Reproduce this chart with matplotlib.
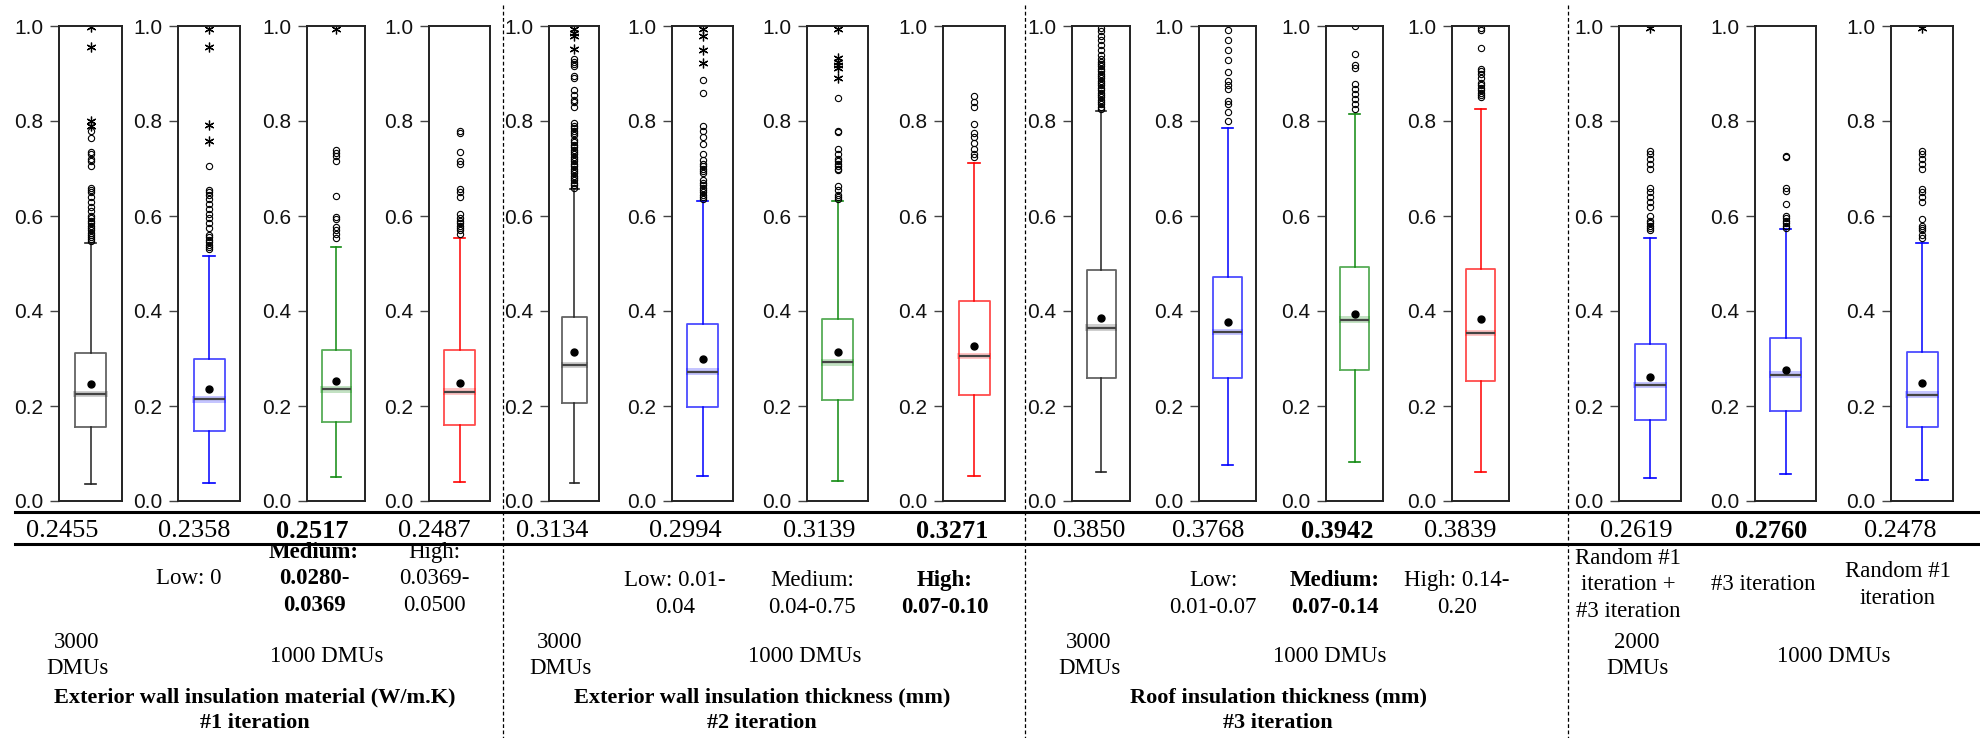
import numpy as np
import matplotlib
matplotlib.use("Agg")
import matplotlib.pyplot as plt
from matplotlib.lines import Line2D

W, H = 1980, 738

# ----- Data (efficiency score distributions) -----
whis_lo = [0.036, 0.038, 0.051, 0.040, 0.037, 0.053, 0.042, 0.053,
           0.061, 0.076, 0.083, 0.062, 0.048, 0.056, 0.045]
q1 = [0.155, 0.148, 0.166, 0.160, 0.206, 0.198, 0.213, 0.223,
      0.260, 0.259, 0.275, 0.253, 0.171, 0.189, 0.156]
median = [0.225, 0.214, 0.235, 0.230, 0.286, 0.272, 0.292, 0.305,
          0.365, 0.356, 0.382, 0.354, 0.244, 0.266, 0.224]
q3 = [0.311, 0.298, 0.317, 0.318, 0.388, 0.373, 0.383, 0.422,
      0.486, 0.472, 0.492, 0.488, 0.330, 0.343, 0.313]
whis_hi = [0.543, 0.516, 0.535, 0.553, 0.657, 0.632, 0.632, 0.712,
           0.822, 0.786, 0.815, 0.826, 0.554, 0.572, 0.544]
mean_scores = [0.2455, 0.2358, 0.2517, 0.2487, 0.3134, 0.2994, 0.3139, 0.3271,
               0.3850, 0.3768, 0.3942, 0.3839, 0.2619, 0.2760, 0.2478]

circle_outliers = [
    [0.548, 0.552, 0.556, 0.56, 0.565, 0.57, 0.575, 0.58, 0.585, 0.59, 0.595, 0.60,
     0.61, 0.62, 0.63, 0.64, 0.65, 0.655, 0.66, 0.705, 0.715, 0.72, 0.73, 0.735, 0.765, 0.78],
    [0.53, 0.535, 0.54, 0.545, 0.55, 0.555, 0.56, 0.575, 0.585, 0.595, 0.605, 0.615,
     0.625, 0.635, 0.645, 0.65, 0.655, 0.705],
    [0.553, 0.563, 0.57, 0.577, 0.594, 0.598, 0.643, 0.716, 0.727, 0.733, 0.74],
    [0.563, 0.57, 0.575, 0.58, 0.585, 0.59, 0.595, 0.605, 0.64, 0.65, 0.657,
     0.71, 0.716, 0.735, 0.775, 0.779],
    [0.66, 0.665, 0.67, 0.675, 0.68, 0.685, 0.69, 0.695, 0.70, 0.705, 0.71, 0.715,
     0.72, 0.725, 0.73, 0.735, 0.74, 0.745, 0.75, 0.755, 0.76, 0.77, 0.775, 0.78,
     0.785, 0.79, 0.795, 0.83, 0.84, 0.845, 0.855, 0.865, 0.89, 0.895, 0.915,
     0.92, 0.925, 0.93],
    [0.635, 0.64, 0.645, 0.65, 0.655, 0.66, 0.665, 0.67, 0.675, 0.69, 0.695, 0.70,
     0.705, 0.71, 0.717, 0.73, 0.752, 0.766, 0.78, 0.79, 0.858, 0.886],
    [0.635, 0.64, 0.645, 0.654, 0.664, 0.696, 0.70, 0.705, 0.71, 0.715, 0.72,
     0.73, 0.742, 0.777, 0.78, 0.848],
    [0.724, 0.731, 0.742, 0.753, 0.767, 0.774, 0.794, 0.83, 0.841, 0.852],
    [0.825, 0.83, 0.835, 0.84, 0.845, 0.85, 0.855, 0.86, 0.865, 0.87, 0.875, 0.88,
     0.885, 0.89, 0.895, 0.90, 0.905, 0.91, 0.915, 0.92, 0.925, 0.93, 0.94, 0.95,
     0.96, 0.97, 0.98, 0.99, 0.995],
    [0.80, 0.818, 0.835, 0.842, 0.868, 0.875, 0.885, 0.903, 0.928, 0.949, 0.971, 0.992],
    [0.825, 0.836, 0.846, 0.857, 0.868, 0.878, 0.912, 0.918, 0.941, 0.999],
    [0.85, 0.855, 0.86, 0.865, 0.87, 0.875, 0.88, 0.89, 0.90, 0.905, 0.91,
     0.953, 0.992, 0.995],
    [0.57, 0.575, 0.58, 0.585, 0.59, 0.60, 0.62, 0.63, 0.64, 0.65, 0.66,
     0.70, 0.71, 0.72, 0.73, 0.736],
    [0.574, 0.58, 0.585, 0.59, 0.595, 0.60, 0.626, 0.653, 0.66, 0.725, 0.727],
    [0.553, 0.56, 0.57, 0.575, 0.58, 0.594, 0.63, 0.64, 0.65, 0.656,
     0.70, 0.71, 0.72, 0.73, 0.736],
]
star_outliers = [
    [0.79, 0.80, 0.955, 0.997],
    [0.758, 0.791, 0.955, 0.994],
    [0.994],
    [],
    [0.952, 0.979, 0.986, 0.994],
    [0.923, 0.95, 0.978, 0.993],
    [0.89, 0.911, 0.918, 0.925, 0.933, 0.994],
    [], [], [], [], [],
    [0.996],
    [],
    [0.996],
]

group_sizes = [4, 4, 4, 3]
level_labels = [
    ["", "Low: 0", "Medium:\n0.0280-\n0.0369", "High:\n0.0369-\n0.0500"],
    ["", "Low: 0.01-\n0.04", "Medium:\n0.04-0.75", "High:\n0.07-0.10"],
    ["", "Low:\n0.01-0.07", "Medium:\n0.07-0.14", "High: 0.14-\n0.20"],
    ["Random #1\niteration +\n#3 iteration", "#3 iteration", "Random #1\niteration"],
]
bold_level = [2, 3, 2, None]
dmu_first = ["3000\nDMUs", "3000\nDMUs", "3000\nDMUs", "2000\nDMUs"]
dmu_rest = "1000 DMUs"
group_titles = [
    "Exterior wall insulation material (W/m.K)\n#1 iteration",
    "Exterior wall insulation thickness (mm)\n#2 iteration",
    "Roof insulation thickness (mm)\n#3 iteration",
    "",
]

# ----- Styles / layout (pixels) -----
panel_colors = ["black", "blue", "green", "red"] * 3 + ["blue"] * 3
WHISKER_C = {"black": "#222222", "blue": "#0000ff", "green": "#108a10", "red": "#ff0000"}
BAND_C = {"black": "#555555", "blue": "#3030ff", "green": "#2a9a2a", "red": "#ff3030"}

panel_left = [59, 178, 307, 429, 549, 672, 807, 943, 1072, 1199, 1326, 1452, 1619, 1755, 1891]
panel_right = [122, 240, 365, 490, 599, 733, 868, 1005, 1130, 1256, 1383, 1509, 1681, 1816, 1953]
PANEL_TOP, PANEL_BOTTOM = 26, 501

mean_x = [62, 194, 312, 434, 552, 685, 819, 952, 1089, 1208, 1337, 1460, 1636, 1771, 1900]
level_x = [None, 189, 314, 434, None, 675, 812, 945, None, 1213, 1335, 1457, 1628, 1763, 1898]
level_y = [579, 594, 594, 585]
LEVEL_GAP = 26.5
dmu_first_x = [77, 560, 1089, 1637]
dmu_rest_x = [327, 805, 1330, 1834]
title_x = [255, 762, 1278, None]
separators_x = [503, 1025, 1568]

SERIF = "Liberation Serif"
SANS = "Liberation Sans"

fig = plt.figure(figsize=(W / 100, H / 100), dpi=100)


def put(x, y, s, gap, **kw):
    lines = s.split("\n")
    n = len(lines)
    for i, line in enumerate(lines):
        yy = y + (i - (n - 1) / 2) * gap
        fig.text(x / W, 1 - yy / H, line, ha="center", va="center",
                 family=SERIF, **kw)


# ----- Box plots -----
for i in range(15):
    c = panel_colors[i]
    ax = fig.add_axes([panel_left[i] / W, 1 - PANEL_BOTTOM / H,
                       (panel_right[i] - panel_left[i]) / W,
                       (PANEL_BOTTOM - PANEL_TOP) / H])
    stats = [dict(med=median[i], q1=q1[i], q3=q3[i], whislo=whis_lo[i],
                  whishi=whis_hi[i], mean=mean_scores[i],
                  fliers=np.array(circle_outliers[i]))]
    ax.bxp(stats, positions=[1], widths=0.5, capwidths=0.18, showmeans=True,
           manage_ticks=False,
           boxprops=dict(color=WHISKER_C[c], lw=1.3, alpha=0.7),
           whiskerprops=dict(color=WHISKER_C[c], lw=1.1),
           capprops=dict(color=WHISKER_C[c], lw=1.2),
           medianprops=dict(color="#444444", lw=1.6),
           meanprops=dict(marker="o", markerfacecolor="k", markeredgecolor="k",
                          markersize=5),
           flierprops=dict(marker="o", markerfacecolor="none",
                           markeredgecolor="k", markersize=4.5,
                           markeredgewidth=0.8))
    ax.fill_between([0.73, 1.27], median[i] - 0.007, median[i] + 0.007,
                    color=BAND_C[c], alpha=0.28, lw=0)
    if star_outliers[i]:
        ax.plot([1] * len(star_outliers[i]), star_outliers[i], ls="none",
                marker=(6, 2, 0), markersize=7, markeredgewidth=0.9, color="k")
    ax.set_xlim(0.5, 1.5)
    ax.set_ylim(0, 1)
    ax.set_xticks([])
    ax.set_yticks([0, 0.2, 0.4, 0.6, 0.8, 1.0])
    ax.set_yticklabels(["0.0", "0.2", "0.4", "0.6", "0.8", "1.0"], family=SANS)
    ax.tick_params(axis="y", length=6.5, width=1, color="#444444", pad=5,
                   labelsize=15, labelcolor="#111111")
    for sp in ax.spines.values():
        sp.set_color("#222222")
        sp.set_linewidth(1.4)

# ----- Table lines -----
for yy in (512, 544):
    fig.add_artist(Line2D([15 / W, 1978 / W], [1 - yy / H, 1 - yy / H],
                          transform=fig.transFigure, color="k", lw=2.2))
for xx in separators_x:
    fig.add_artist(Line2D([xx / W, xx / W], [1 - 5 / H, 0],
                          transform=fig.transFigure, color="k", lw=0.9,
                          ls=(0, (3, 2))))

# ----- Table text -----
start = 0
for g, n in enumerate(group_sizes):
    idx = list(range(start, start + n))
    best = max(mean_scores[k] for k in idx)
    for j, k in enumerate(idx):
        put(mean_x[k], 531, f"{mean_scores[k]:.4f}", 0, fontsize=19,
            fontweight="bold" if mean_scores[k] == best else "normal")
        lab = level_labels[g][j]
        if lab:
            put(level_x[k], level_y[g], lab, LEVEL_GAP, fontsize=16.5,
                fontweight="bold" if bold_level[g] == j else "normal")
    put(dmu_first_x[g], 656, dmu_first[g], 26, fontsize=16.5)
    put(dmu_rest_x[g], 657, dmu_rest, 0, fontsize=16.5)
    if group_titles[g]:
        put(title_x[g], 710, group_titles[g], 26, fontsize=16, fontweight="bold")
    start += n

fig.savefig("out.png", dpi=100)
